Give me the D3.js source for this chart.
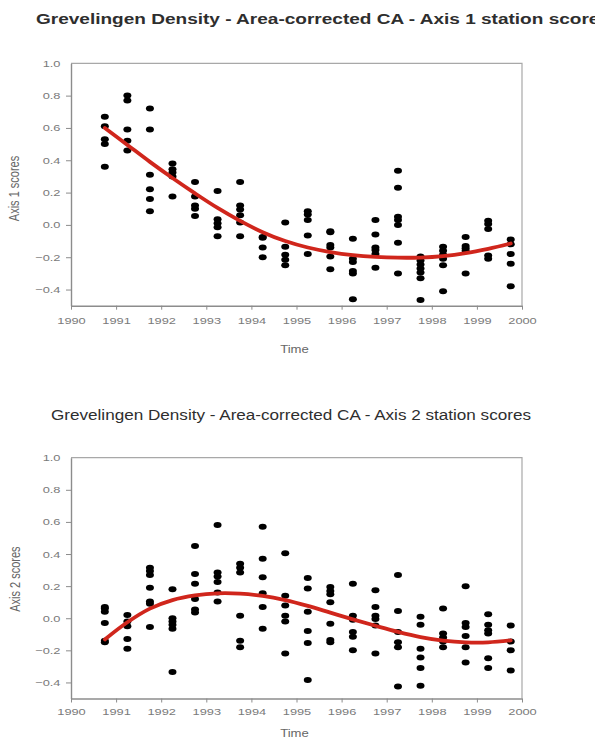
<!DOCTYPE html>
<html>
<head>
<meta charset="utf-8">
<script src="https://cdn.jsdelivr.net/npm/d3@7"></script>
<style>
  body { margin: 0; background: #fff; }
  svg { display: block; }
  .tick text { fill: #7a7a7a; font-family: "Liberation Sans", Arial, sans-serif; font-size: 9.5px; }
  .tick line, .domain { stroke: #8c8c8c; }
</style>
</head>
<body>
<div id="chart"></div>
<script>
// sampling times (mid-year and end-year surveys)
const times = [1990.75, 1991.25, 1991.75, 1992.25, 1992.75, 1993.25, 1993.75, 1994.25, 1994.75,
  1995.25, 1995.75, 1996.25, 1996.75, 1997.25, 1997.75, 1998.25, 1998.75, 1999.25, 1999.75];

// station scores per sampling time, axis 1
const axis1Scores = [
  [0.67, 0.61, 0.53, 0.50, 0.36],
  [0.80, 0.77, 0.59, 0.52, 0.46],
  [0.72, 0.59, 0.31, 0.22, 0.16, 0.085],
  [0.38, 0.345, 0.325, 0.30, 0.175],
  [0.265, 0.175, 0.12, 0.10, 0.055],
  [0.21, 0.035, 0.01, -0.015, -0.07],
  [0.265, 0.12, 0.095, 0.06, 0.015, -0.07],
  [-0.075, -0.08, -0.14, -0.20],
  [0.015, -0.135, -0.185, -0.215, -0.25],
  [0.085, 0.065, 0.03, -0.065, -0.18],
  [-0.04, -0.045, -0.125, -0.14, -0.195, -0.275],
  [-0.085, -0.21, -0.23, -0.285, -0.30, -0.46],
  [0.03, -0.06, -0.14, -0.155, -0.18, -0.265],
  [0.335, 0.23, 0.05, 0.03, 0.0, -0.11, -0.30],
  [-0.195, -0.22, -0.245, -0.27, -0.295, -0.33, -0.465],
  [-0.135, -0.16, -0.185, -0.21, -0.25, -0.41],
  [-0.075, -0.13, -0.145, -0.16, -0.30],
  [0.025, 0.005, -0.025, -0.19, -0.21],
  [-0.09, -0.12, -0.18, -0.24, -0.38]
];
// fitted trend, axis 1
const axis1Fit = [0.60, 0.495, 0.39, 0.29, 0.195, 0.105, 0.025, -0.045, -0.10,
  -0.14, -0.168, -0.187, -0.198, -0.203, -0.202, -0.193, -0.175, -0.148, -0.115];

// station scores per sampling time, axis 2
const axis2Scores = [
  [0.07, 0.06, 0.04, -0.03, -0.14, -0.15],
  [0.02, -0.02, -0.05, -0.13, -0.19],
  [0.315, 0.295, 0.27, 0.19, 0.105, 0.09, -0.055],
  [0.18, 0.0, -0.02, -0.04, -0.065, -0.335],
  [0.45, 0.275, 0.215, 0.12, 0.055, 0.035],
  [0.58, 0.285, 0.26, 0.225, 0.16, 0.105],
  [0.34, 0.315, 0.285, 0.015, -0.14, -0.18],
  [0.57, 0.37, 0.255, 0.155, 0.07, -0.065],
  [0.405, 0.14, 0.08, 0.015, -0.02, -0.22],
  [0.25, 0.185, 0.04, -0.08, -0.155, -0.385],
  [0.195, 0.17, 0.15, 0.10, -0.035, -0.135, -0.15],
  [0.215, 0.015, -0.01, -0.085, -0.115, -0.20],
  [0.175, 0.07, 0.015, -0.005, -0.045, -0.22],
  [0.27, 0.045, -0.085, -0.15, -0.18, -0.425],
  [0.01, -0.04, -0.19, -0.245, -0.31, -0.42],
  [0.06, -0.095, -0.12, -0.145, -0.18],
  [0.20, -0.03, -0.055, -0.11, -0.18, -0.275],
  [0.025, -0.04, -0.075, -0.095, -0.25, -0.31],
  [-0.045, -0.145, -0.20, -0.325]
];
// fitted trend, axis 2
const axis2Fit = [-0.132, -0.025, 0.06, 0.113, 0.142, 0.155, 0.153, 0.139, 0.113,
  0.077, 0.035, -0.007, -0.047, -0.085, -0.117, -0.139, -0.15, -0.15, -0.138];

const yearTicks = d3.range(1990, 2001);
const scoreTicks = [-0.4, -0.2, 0.0, 0.2, 0.4, 0.6, 0.8, 1.0];

const panels = [
  { title: "Grevelingen Density - Area-corrected CA - Axis 1 station scores", titleX: 36, titleY: 24,
    titleSize: 14.5, titleWeight: "bold", titleLen: 574,
    yLabel: "Axis 1 scores", scores: axis1Scores, fit: axis1Fit,
    top: 63.3, bottom: 305.7, xLabY: 324, timeY: 352.5, yLabX: 19, yLabShift: 4 },
  { title: "Grevelingen Density - Area-corrected CA - Axis 2 station scores", titleX: 51, titleY: 419.5,
    titleSize: 14, titleWeight: "normal", titleLen: 480,
    yLabel: "Axis 2 scores", scores: axis2Scores, fit: axis2Fit,
    top: 457.7, bottom: 698.5, xLabY: 715, timeY: 737, yLabX: 20, yLabShift: 1 }
];

const W = 595, H = 740;
const left = 71, right = 522;
const stretch = 1.35; // the original picture is widened, text included

const svg = d3.select("#chart").append("svg")
  .attr("width", W)
  .attr("height", H);

panels.forEach(p => {
  const x = d3.scaleLinear().domain([1990, 2000]).range([left, right]);
  const y = d3.scaleLinear().domain([-0.5, 1.0]).range([p.bottom, p.top]);
  const g = svg.append("g");

  //Title
  g.append("text")
    .attr("x", p.titleX)
    .attr("y", p.titleY)
    .attr("font-family", "Liberation Sans, Arial, sans-serif")
    .attr("font-size", p.titleSize)
    .attr("font-weight", p.titleWeight)
    .attr("fill", "#2e2e2e")
    .attr("textLength", p.titleLen)
    .attr("lengthAdjust", "spacingAndGlyphs")
    .text(p.title);

  //Frame (top and right)
  g.append("path")
    .attr("d", `M${left},${p.top}H${right}V${p.bottom}`)
    .attr("fill", "none")
    .attr("stroke", "#a8a8a8")
    .attr("stroke-width", 1.2);

  //Axes
  const xAxis = g.append("g")
    .attr("transform", `translate(0,${p.bottom})`)
    .call(d3.axisBottom(x).tickValues(yearTicks).tickFormat(d3.format("d")).tickSize(4).tickSizeOuter(0));
  xAxis.selectAll(".tick text").attr("y", null).attr("dy", null)
    .attr("transform", `translate(0,${p.xLabY - p.bottom}) scale(${stretch},1)`);
  xAxis.select(".domain").attr("stroke-width", 1.4);

  const yAxis = g.append("g")
    .attr("transform", `translate(${left},0)`)
    .call(d3.axisLeft(y).tickValues(scoreTicks).tickFormat(d3.format(".1f")).tickSize(5).tickSizeOuter(0));
  yAxis.selectAll(".tick text")
    .attr("x", -10.5 / stretch)
    .attr("transform", `scale(${stretch},1)`);
  yAxis.select(".domain").attr("stroke-width", 1.4);
  // top tick label 1.0 sits on the frame with no tick mark
  yAxis.selectAll(".tick").filter(d => d === 1.0).select("line").remove();

  //Axis titles
  g.append("text")
    .attr("transform", `translate(${(left + right) / 2 - 2},${p.timeY}) scale(1.25,1)`)
    .attr("text-anchor", "middle")
    .attr("font-family", "Liberation Sans, Arial, sans-serif")
    .attr("font-size", 10.5)
    .attr("fill", "#666")
    .text("Time");

  g.append("text")
    .attr("transform", `translate(${p.yLabX},${(p.top + p.bottom) / 2 + p.yLabShift}) scale(1.25,1) rotate(-90)`)
    .attr("text-anchor", "middle")
    .attr("font-family", "Liberation Sans, Arial, sans-serif")
    .attr("font-size", 11)
    .attr("fill", "#666")
    .text(p.yLabel);

  //Points
  const pts = [];
  p.scores.forEach((vals, i) => vals.forEach(v => pts.push({ t: times[i], v: v })));
  g.append("g").selectAll("ellipse")
    .data(pts)
    .enter()
    .append("ellipse")
    .attr("cx", d => x(d.t))
    .attr("cy", d => y(d.v))
    .attr("rx", 4)
    .attr("ry", 3)
    .attr("fill", "#000");

  //Trend line
  const line = d3.line()
    .x((d, i) => x(times[i]))
    .y(d => y(d))
    .curve(d3.curveCatmullRom);
  g.append("path")
    .datum(p.fit)
    .attr("d", line)
    .attr("fill", "none")
    .attr("stroke", "#d0261c")
    .attr("stroke-width", 3.8)
    .attr("stroke-linecap", "round");
});
</script>
</body>
</html>
